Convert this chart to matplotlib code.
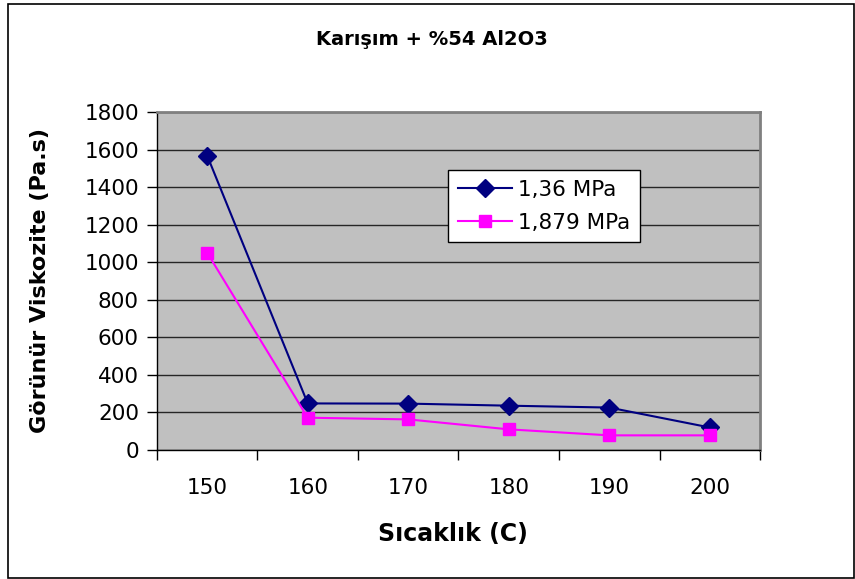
import matplotlib
matplotlib.use('Agg')
import matplotlib.pyplot as plt
from matplotlib.patches import Rectangle

plt.rcParams['font.family'] = ['DejaVu Sans']

# Data
temps = ['150', '160', '170', '180', '190', '200']
visc_136 = [1567, 248, 247, 236, 226, 120]     # 1,36 MPa
visc_1879 = [1050, 172, 163, 110, 78, 78]      # 1,879 MPa
series_names = ['1,36 MPa', '1,879 MPa']
y_ticks = list(range(0, 1801, 200))


def main():
    fig = plt.figure(figsize=(8.55, 5.79), dpi=100)
    ax = fig.add_axes([0.1836, 0.2228, 0.7053, 0.5838])
    ax.set_facecolor('#C0C0C0')

    x = list(range(len(temps)))
    ax.plot(x, visc_136, color='#000080', lw=1.5, marker='D', markersize=9,
            label=series_names[0], zorder=3)
    ax.plot(x, visc_1879, color='#FF00FF', lw=1.5, marker='s', markersize=8.5,
            label=series_names[1], zorder=3)

    # y axis
    ax.set_ylim(0, 1800)
    ax.set_yticks(y_ticks)
    ax.yaxis.grid(True, color='#262626', lw=1.0)
    ax.set_axisbelow(True)
    ax.tick_params(axis='y', direction='out', length=7, width=1, pad=6, labelsize=15.5)

    # x axis: ticks between categories, labels centered
    ax.set_xlim(-0.5, len(temps) - 0.5)
    ax.set_xticks([i - 0.5 for i in range(len(temps) + 1)])
    ax.set_xticklabels([])
    ax.set_xticks(x, minor=True)
    ax.set_xticklabels(temps, minor=True)
    ax.tick_params(axis='x', which='major', direction='out', length=7, width=1)
    ax.tick_params(axis='x', which='minor', length=0, pad=20, labelsize=15.5)

    for side in ['top', 'right']:
        ax.spines[side].set_color('#808080')
        ax.spines[side].set_linewidth(2)
    for side in ['left', 'bottom']:
        ax.spines[side].set_color('#000000')
        ax.spines[side].set_linewidth(1)

    ax.set_xlabel('Sıcaklık (C)', fontsize=17, fontweight='bold')
    ax.xaxis.set_label_coords(0.491, -0.213)
    ax.set_ylabel('Görünür Viskozite (Pa.s)', fontsize=16, fontweight='bold')
    ax.yaxis.set_label_coords(-0.177, 0.5)

    fig.text(0.505, 0.931, 'Karışım + %54 Al2O3', fontsize=14, fontweight='bold',
             ha='center', va='center')

    leg = ax.legend(loc='upper left', bbox_to_anchor=(0.4826, 0.828), borderaxespad=0,
                    fontsize=15.5, fancybox=False, framealpha=1, edgecolor='#000000',
                    handlelength=2.5, handletextpad=0.3, labelspacing=0.6,
                    borderpad=0.45)
    leg.get_frame().set_linewidth(1)

    # outer chart border
    fig.patches.append(Rectangle((8 / 855, 1 / 579), 846 / 855, 574 / 579,
                                 transform=fig.transFigure, fill=False,
                                 edgecolor='#000000', lw=1.2))

    fig.savefig('out.png', dpi=100)


if __name__ == '__main__':
    main()
